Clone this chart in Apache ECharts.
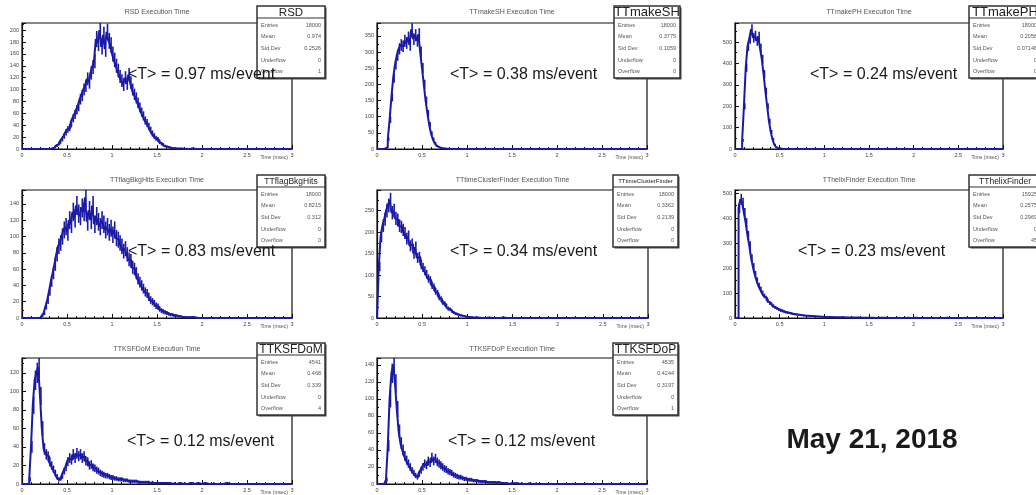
<!DOCTYPE html>
<html><head><meta charset="utf-8">
<script src="https://cdn.jsdelivr.net/npm/echarts@6/dist/echarts.min.js"></script>
<style>html,body{margin:0;padding:0;background:#fff;}#c{width:1036px;height:495px;}</style>
</head><body><div id="c"></div>
<script>
// ---------------- DATA ----------------
const binWidth = 0.02;
const histNames = ['RSD','TTmakeSH','TTmakePH','TTflagBkgHits','TTtimeClusterFinder','TThelixFinder','TTKSFDoM','TTKSFDoP'];
const titles = ['RSD Execution Time','TTmakeSH Execution Time','TTmakePH Execution Time','TTflagBkgHits Execution Time','TTtimeClusterFinder Execution Time','TThelixFinder Execution Time','TTKSFDoM Execution Time','TTKSFDoP Execution Time'];
const avgLabels = ['<T> = 0.97 ms/event','<T> = 0.38 ms/event','<T> = 0.24 ms/event','<T> = 0.83 ms/event','<T> = 0.34 ms/event','<T> = 0.23 ms/event','<T> = 0.12 ms/event','<T> = 0.12 ms/event'];
const entries = ['18000','18000','18000','18000','18000','15925','4541','4535'];
const means = ['0.974','0.3775','0.2056','0.8215','0.3362','0.2575','0.468','0.4244'];
const stdDevs = ['0.2526','0.1059','0.07146','0.312','0.2139','0.2969','0.339','0.3197'];
const underflows = ['0','0','0','0','0','0','0','0'];
const overflows = ['1','0','0','0','0','45','4','1'];
const xTicks = [0, 3, 0.5];
const yMax = [212, 390, 589, 157, 298, 512, 136, 148];
const yStep = [20, 50, 100, 20, 50, 100, 20, 20];
const dateLabel = 'May 21, 2018';

// first bin start (msec) for each histogram
const starts = [0.30, 0.08, 0.06, 0.18, 0.00, 0.02, 0.06, 0.08];

const countsRSD = [0,1,2,4,6,9,13,17,22,28,33,36,44,52,58,66,72,84,90,100,106,118,112,128,138,148,185,178,200,172,192,168,197,182,175,160,150,140,132,122,115,108,120,110,125,112,100,92,86,78,70,62,56,48,44,38,32,26,22,18,16,12,9,7,5,4,3,2,2,1,1,1,0,1,0,0,1,0,0,1];
const countsMakeSH = [0,5,30,90,160,220,262,290,310,322,318,335,328,345,322,370,340,352,335,355,300,250,200,150,110,75,48,30,18,10,5,3,2,1,1];
const countsMakePH = [0,40,200,380,480,515,560,520,530,505,525,470,420,350,270,200,130,80,45,20,8,3,1];
const countsFlagBkg = [0,1,3,6,14,22,33,45,55,66,78,88,92,100,108,112,105,120,115,130,122,138,128,125,135,130,148,118,132,120,138,115,125,118,112,120,115,108,112,105,110,102,108,98,96,92,88,82,85,78,72,70,62,60,55,48,44,40,36,32,30,26,22,20,18,15,14,11,9,8,7,6,5,4,4,3,3,2,2,2,1,1,1,1,1,1,1];
const countsTimeCluster = [0,120,190,215,230,250,262,275,245,250,232,228,215,212,205,198,185,190,168,172,150,165,140,142,125,118,110,102,92,88,76,72,62,58,48,44,36,33,28,22,20,16,13,10,9,7,6,5,4,3,3,2,2,1,1,1,1,0,1,0,0,1,0,0,0,0,0,0,0,1];
const countsHelix = [0,440,475,460,420,380,330,290,240,205,175,150,130,115,100,88,80,68,60,55,48,42,38,34,30,28,25,23,21,20,18,16,15,14,13,12,11,10,10,9,8,8,7,7,6,6,5,5,5,4,4,4,4,3,3,3,3,3,2,3,2,2,2,2,2,2,1,2,1,1,1,1,1,1,1,1,1,0,1,1,0,1,0,1,0,0,1,0,1,0,0,0,1,0,0,1,0,0,0,1,0,0,0,0,1,0,0,0,0,0,1,0,0,0,0,0,0,1,0,0,0,0,0,0,0,0,1];
const countsKSFDoM = [0,5,40,85,112,120,126,95,60,38,32,30,24,20,16,12,8,5,6,9,14,18,24,28,26,32,28,33,30,32,28,30,25,24,20,21,18,17,15,14,12,11,10,9,9,8,7,7,6,6,5,5,5,4,4,4,3,3,3,3,3,2,2,2,2,2,2,2,1,2,1,1,1,1,1,1,1,0,1,1,0,1,0,0,1,0,0,1,0,0,1,0,0,0,1,0,0,0,1,0,0,0,0,1,0,0,0,0,0,0,1];
const countsKSFDoP = [0,5,45,100,130,140,118,88,62,48,40,33,28,24,20,16,13,10,8,12,16,20,24,22,27,25,31,27,30,26,24,22,20,18,17,15,14,13,11,10,9,8,8,7,6,6,5,5,5,4,4,4,3,3,3,3,3,2,2,2,2,2,1,2,1,1,1,1,1,0,1,1,0,1,0,0,1,0,0,0,1,0,0,0,1];
const allCounts = [countsRSD, countsMakeSH, countsMakePH, countsFlagBkg, countsTimeCluster, countsHelix, countsKSFDoM, countsKSFDoP];

// ---------------- LAYOUT ----------------
const gridLeft = [22,377,735,22,377,735,22,377];
const gridTop  = [23,23,23,190,190,190,358,358];
const gridW    = [270,270,268,270,271,268,270,270];
const gridH    = [126,126,126,128,128,128,126,126];
const statX = [257,614,969,257,613,969,257,613];
const statY = [6,6,6,175,175,175,343,343];
const statW = [68,66,72,68,65,72,68,65];
const statH = 72;
const headFont = [11.5,13,13,8.5,6,8.5,12,12];
const annX = [128,450,810,128,450,798,127,448];
const annY = [75,75,75,252,252,252,442,442];
const titleY = [12,12,12,180,180,180,349,349];
const BLUE = '#1a1aa6';

const chart = echarts.init(document.getElementById('c'), null, {renderer:'canvas'});
const grids=[], xAxes=[], yAxes=[], series=[], graphics=[];

function isMult(v, s){ const r = v/s; return Math.abs(r-Math.round(r))<1e-6; }

for (let k=0;k<8;k++){
  grids.push({left:gridLeft[k], top:gridTop[k], width:gridW[k], height:gridH[k], show:true, borderColor:'#111', borderWidth:1.2, backgroundColor:'transparent'});
  xAxes.push({gridIndex:k, type:'value', min:xTicks[0], max:xTicks[1], interval:xTicks[2],
    axisLine:{show:true,onZero:false,lineStyle:{color:'#111',width:1.2}},
    axisTick:{show:true,inside:true,length:4,lineStyle:{color:'#111'}},
    minorTick:{show:true,splitNumber:5,length:2,lineStyle:{color:'#111'}},
    splitLine:{show:false},
    axisLabel:{fontSize:5.5,color:'#444',margin:3,fontFamily:'Liberation Sans'}});
  yAxes.push({gridIndex:k, type:'value', min:0, max:yMax[k], interval:yStep[k],
    axisLine:{show:true,onZero:false,lineStyle:{color:'#111',width:1.2}},
    axisTick:{show:true,inside:true,length:4,lineStyle:{color:'#111'}},
    minorTick:{show:true,splitNumber:2,length:2,lineStyle:{color:'#111'}},
    splitLine:{show:false},
    axisLabel:{fontSize:5.5,color:'#444',margin:3,fontFamily:'Liberation Sans',
      formatter: (v)=> isMult(v, yStep[k]) ? String(v) : ''}});
  const cnt = allCounts[k], s = starts[k];
  const n = Math.round(3/binWidth);
  const pts = [], errs = [];
  for (let i=0;i<n;i++){
    const x = +(i*binWidth).toFixed(4);
    const j = Math.round((x - s)/binWidth);
    const v = (j>=0 && j<cnt.length) ? cnt[j] : 0;
    pts.push([x, v]);
    if (v>0) errs.push([x, v, Math.sqrt(v)]);
  }
  pts.push([3, 0]);
  series.push({type:'line', xAxisIndex:k, yAxisIndex:k, data:pts, step:'end', showSymbol:false, symbol:'none',
    lineStyle:{color:BLUE,width:2}, silent:true, animation:false, clip:true, z:3});
  series.push({type:'custom', xAxisIndex:k, yAxisIndex:k, data:errs, silent:true, animation:false, clip:true, z:3,
    renderItem:(params, api)=>{
      const xc = api.value(0) + binWidth/2, v = api.value(1), e = api.value(2);
      const p1 = api.coord([xc, Math.max(0, v-e)]), p2 = api.coord([xc, v+e]);
      return {type:'line', shape:{x1:p1[0],y1:p1[1],x2:p2[0],y2:p2[1]}, style:{stroke:BLUE,lineWidth:1.6}};
    }});

  // title
  graphics.push({type:'text', x:gridLeft[k]+gridW[k]/2, y:titleY[k], z:10,
    style:{text:titles[k], fontSize:7, fontFamily:'Liberation Sans', fill:'#555', textAlign:'center', textVerticalAlign:'middle'}});
  // x axis title
  graphics.push({type:'text', x:gridLeft[k]+gridW[k]-4, y:gridTop[k]+gridH[k]+9, z:10,
    style:{text:'Time (msec)', fontSize:5, fontFamily:'Liberation Sans', fill:'#555', textAlign:'right', textVerticalAlign:'middle'}});
  // stats box
  const sx = statX[k], sy = statY[k], sw = statW[k];
  const kids = [];
  kids.push({type:'rect', shape:{x:1.5,y:1.5,width:sw,height:statH}, style:{fill:'#444'}});
  kids.push({type:'rect', shape:{x:0,y:0,width:sw,height:statH}, style:{fill:'#fff', stroke:'#333', lineWidth:1.5}});
  kids.push({type:'line', shape:{x1:0,y1:12,x2:sw,y2:12}, style:{stroke:'#333', lineWidth:1.2}});
  kids.push({type:'text', x:sw/2, y:6.5, style:{text:histNames[k], fontSize:headFont[k], fontFamily:'Liberation Sans', fill:'#222', textAlign:'center', textVerticalAlign:'middle'}});
  const rowL = ['Entries','Mean','Std Dev','Underflow','Overflow'];
  const rowV = [entries[k], means[k], stdDevs[k], underflows[k], overflows[k]];
  for (let r=0;r<5;r++){
    const ry = 19 + r*11.7;
    kids.push({type:'text', x:4, y:ry, style:{text:rowL[r], fontSize:5.5, fontFamily:'Liberation Sans', fill:'#555', textAlign:'left', textVerticalAlign:'middle'}});
    kids.push({type:'text', x:sw-4, y:ry, style:{text:rowV[r], fontSize:5.5, fontFamily:'Liberation Sans', fill:'#555', textAlign:'right', textVerticalAlign:'middle'}});
  }
  graphics.push({type:'group', x:sx, y:sy, z:20, children:kids});
  // annotation
  graphics.push({type:'text', x:annX[k], y:annY[k], z:30,
    style:{text:avgLabels[k], fontSize:16, fontFamily:'Liberation Sans', fill:'#1a1a1a', textAlign:'left', textVerticalAlign:'middle'}});
}
graphics.push({type:'text', x:872, y:440, z:30,
  style:{text:dateLabel, fontSize:28, fontWeight:'bold', fontFamily:'Liberation Sans', fill:'#1a1a1a', textAlign:'center', textVerticalAlign:'middle'}});

chart.setOption({animation:false, backgroundColor:'#fff', grid:grids, xAxis:xAxes, yAxis:yAxes, series:series, graphic:graphics});
</script></body></html>
